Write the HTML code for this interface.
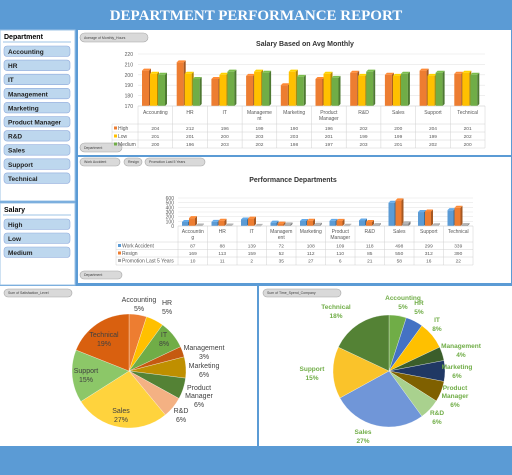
<!DOCTYPE html>
<html><head><meta charset="utf-8">
<style>
html,body{margin:0;padding:0;background:#5b9bd5;}
svg{display:block;font-family:"Liberation Sans",sans-serif;}
</style></head>
<body>
<svg id="s" width="512" height="475" viewBox="0 0 512 475" xmlns="http://www.w3.org/2000/svg">
<rect x="0" y="0" width="512" height="475" fill="#5b9bd5"/>
<text x="256" y="20" text-anchor="middle" font-family="Liberation Serif,serif" font-weight="bold" font-size="15" fill="#fff">DEPARTMENT PERFORMANCE REPORT</text>
<rect x="0" y="30" width="75" height="171" fill="#fff" stroke="#9dc3e6"/>
<rect x="0" y="203" width="75" height="82" fill="#fff" stroke="#9dc3e6"/>
<rect x="78" y="30" width="433" height="125" fill="#fff"/>
<rect x="78" y="157" width="433" height="126" fill="#fff"/>
<rect x="0" y="286" width="257" height="160" fill="#fff"/>
<rect x="259" y="286" width="253" height="160" fill="#fff"/>
<g id="g"></g>
</svg>
<script>
// ---- data ----
const departments=["Accounting","HR","IT","Management","Marketing","Product Manager","R&D","Sales","Support","Technical"];
const catLabels1=[["Accounting"],["HR"],["IT"],["Manageme","nt"],["Marketing"],["Product","Manager"],["R&D"],["Sales"],["Support"],["Technical"]];
const catLabels2=[["Accountin","g"],["HR"],["IT"],["Managem","ent"],["Marketing"],["Product","Manager"],["R&D"],["Sales"],["Support"],["Technical"]];
const salHigh=[204,212,196,199,190,196,202,200,204,201];
const salLow=[201,201,200,203,203,201,199,199,199,202];
const salMedium=[200,196,203,202,198,197,203,201,202,200];
const salTicks=[170,180,190,200,210,220];
const workAccident=[87,88,139,72,108,109,118,498,299,339];
const resign=[169,113,159,52,112,110,85,550,312,390];
const promotion=[10,11,2,35,27,6,21,58,16,22];
const perfTicks=[0,100,200,300,400,500,600];
const satisfactionPct=[5,5,8,3,6,6,6,27,15,19];
const timeSpentPct=[5,5,8,4,6,6,6,27,15,18];
const salaryLevels=["High","Low","Medium"];

const NS="http://www.w3.org/2000/svg";
const G=document.getElementById('g');
function mk(tag,a,p){const e=document.createElementNS(NS,tag);for(const k in a)e.setAttribute(k,a[k]);(p||G).appendChild(e);return e;}
function txt(x,y,s,a){const e=mk('text',Object.assign({x:x,y:y},a||{}));e.textContent=s;return e;}
function shade(c,f){const n=parseInt(c.slice(1),16);let r=(n>>16)&255,g=(n>>8)&255,b=n&255;return'rgb('+Math.round(r*f)+','+Math.round(g*f)+','+Math.round(b*f)+')';}
function bar3d(x,y,w,h,c,name){
  const r=mk('rect',{x:x,y:y,width:w,height:Math.max(h,0.5),fill:c});
  
  
  const s=mk('polygon',{points:`${x+w},${y} ${x+w+2},${y-2} ${x+w+2},${y+h-2} ${x+w},${y+h}`,fill:shade(c,0.7)});
  
  
  const t=mk('polygon',{points:`${x},${y} ${x+2},${y-2} ${x+w+2},${y-2} ${x+w},${y}`,fill:shade(c,1.1)});
  
  
}
function pill(x,y,w,h,label,name){
  const r=mk('rect',{x:x,y:y,width:w,height:h,rx:h/2,fill:"#d9d9d9",stroke:"#a6a6a6","stroke-width":0.6});
  
  
  txt(x+4,y+h-3,label,{"font-size":3.5,fill:"#404040"});
}

// ---- slicers ----
let t=txt(4,39,"Department",{"font-size":7,"font-weight":"bold",fill:"#000"});


mk('line',{x1:3,y1:42,x2:71,y2:42,stroke:"#9dc3e6"});
departments.forEach((d,i)=>{
  const y=46+i*14.1;
  const r=mk('rect',{x:4,y:y,width:66,height:10.5,rx:3,fill:"#bdd7ee",stroke:"#8faadc","stroke-width":0.6});
  
  
  txt(8,y+8,d,{"font-size":6.5,"font-weight":"bold",fill:"#1f1f1f"});
});
t=txt(4,212,"Salary",{"font-size":7,"font-weight":"bold",fill:"#000"});


mk('line',{x1:3,y1:215,x2:71,y2:215,stroke:"#9dc3e6"});
salaryLevels.forEach((d,i)=>{
  const y=219+i*14;
  const r=mk('rect',{x:4,y:y,width:66,height:10.5,rx:3,fill:"#bdd7ee",stroke:"#8faadc","stroke-width":0.6});
  
  
  txt(8,y+8,d,{"font-size":6.5,"font-weight":"bold",fill:"#1f1f1f"});
});

// ---- chart 1 ----
pill(80,33,68,9,"Average of Monthly_Hours","monthly-hours-field-button");
pill(80,143,42,9,"Department","department-field-button-1");
t=txt(305,46,"Salary Based on Avg Monthly",{"font-size":7,"font-weight":"bold","text-anchor":"middle",fill:"#333"});


const X0=138,X1=485,CW=(X1-X0)/10,BASE1=106;
const y1=v=>BASE1-(v-170)*52/50;
salTicks.forEach(v=>{
  mk('line',{x1:X0,y1:y1(v),x2:X1,y2:y1(v),stroke:"#e6e6e6","stroke-width":0.6});
  txt(133,y1(v)+2,String(v),{"font-size":5,"text-anchor":"end",fill:"#595959"});
});
const s1=[[salHigh,"#ed7d31","high"],[salLow,"#ffc000","low"],[salMedium,"#70ad47","medium"]];
departments.forEach((d,i)=>{
  s1.forEach((s,j)=>{
    const x=X0+i*CW+4+j*8, v=s[0][i];
    bar3d(x,y1(v),7,BASE1-y1(v),s[1],'salary-bar-'+s[2]+'-'+i);
  });
});
// table 1
const rows1=[106,124,132,140,148];
rows1.forEach(y=>mk('line',{x1:(y==106?X0:112),y1:y,x2:X1,y2:y,stroke:"#d0d0d0","stroke-width":0.5}));
for(let i=0;i<=10;i++)mk('line',{x1:X0+i*CW,y1:106,x2:X0+i*CW,y2:148,stroke:"#d0d0d0","stroke-width":0.5});
mk('line',{x1:112,y1:124,x2:112,y2:148,stroke:"#d0d0d0","stroke-width":0.5});
catLabels1.forEach((l,i)=>l.forEach((s,k)=>txt(X0+(i+.5)*CW,114+k*6,s,{"font-size":5,"text-anchor":"middle",fill:"#595959"})));
s1.forEach((s,j)=>{
  const y=rows1[j+1];
  mk('rect',{x:114,y:y+2.5,width:3,height:3,fill:s[1]});
  txt(118,y+6,salaryLevels[j],{"font-size":5,fill:"#595959"});
  s[0].forEach((v,i)=>txt(X0+(i+.5)*CW,y+6,String(v),{"font-size":4.8,"text-anchor":"middle",fill:"#595959"}));
});

// ---- chart 2 ----
pill(80,158,40,8,"Work Accident","work-accident-field-button");
pill(124,158,18,8,"Resign","resign-field-button");
pill(145,158,60,8,"Promotion Last 5 Years","promotion-field-button");
pill(80,271,42,8,"Department","department-field-button-2");
t=txt(293,182,"Performance Departments",{"font-size":7,"font-weight":"bold","text-anchor":"middle",fill:"#333"});


const P0=178,P1=473,PW=(P1-P0)/10,BASE2=226;
const y2=v=>BASE2-v*28/600;
perfTicks.forEach(v=>{
  mk('line',{x1:P0,y1:y2(v),x2:P1,y2:y2(v),stroke:"#e6e6e6","stroke-width":0.6});
  txt(174,y2(v)+2,String(v),{"font-size":5,"text-anchor":"end",fill:"#595959"});
});
const s2=[[workAccident,"#5b9bd5","work-accident","Work Accident"],[resign,"#ed7d31","resign","Resign"],[promotion,"#a5a5a5","promotion","Promotion Last 5 Years"]];
departments.forEach((d,i)=>{
  s2.forEach((s,j)=>{
    const x=P0+i*PW+4+j*7, v=s[0][i];
    bar3d(x,y2(v),6,BASE2-y2(v),s[1],'perf-bar-'+s[2]+'-'+i);
  });
});
const rows2=[226,242,249.5,257,265];
rows2.forEach(y=>mk('line',{x1:(y==226?P0:116),y1:y,x2:P1,y2:y,stroke:"#d0d0d0","stroke-width":0.5}));
for(let i=0;i<=10;i++)mk('line',{x1:P0+i*PW,y1:226,x2:P0+i*PW,y2:265,stroke:"#d0d0d0","stroke-width":0.5});
mk('line',{x1:116,y1:242,x2:116,y2:265,stroke:"#d0d0d0","stroke-width":0.5});
catLabels2.forEach((l,i)=>l.forEach((s,k)=>txt(P0+(i+.5)*PW,233+k*6,s,{"font-size":5,"text-anchor":"middle",fill:"#595959"})));
s2.forEach((s,j)=>{
  const y=rows2[j+1];
  mk('rect',{x:118,y:y+2,width:3,height:3,fill:s[1]});
  txt(122,y+5.5,s[3],{"font-size":5,fill:"#595959"});
  s[0].forEach((v,i)=>txt(P0+(i+.5)*PW,y+5.5,String(v),{"font-size":4.8,"text-anchor":"middle",fill:"#595959"}));
});

// ---- pies ----
function pie(cx,cy,r,vals,colors,prefix){
  const tot=vals.reduce((a,b)=>a+b,0);let a0=-Math.PI/2;
  vals.forEach((v,i)=>{
    const a1=a0+v/tot*2*Math.PI;
    const x0=cx+r*Math.cos(a0),yy0=cy+r*Math.sin(a0),x1=cx+r*Math.cos(a1),yy1=cy+r*Math.sin(a1);
    const p=mk('path',{d:`M${cx},${cy}L${x0},${yy0}A${r},${r} 0 ${a1-a0>Math.PI?1:0} 1 ${x1},${yy1}Z`,fill:colors[i],stroke:"#fff","stroke-width":0.3});
    
    
    a0=a1;
  });
}
pill(4,289,68,8,"Sum of Satisfaction_Level","satisfaction-field-button");
pie(129,371,57,satisfactionPct,["#ed7d31","#ffc000","#70ad47","#c55a11","#bf8f00","#548235","#f4b183","#ffd33d","#8cc768","#d9600f"],"satisfaction");
const lp=[[139,302],[167,305],[164,337],[204,350],[204,368],[199,390],[181,413],[121,413],[86,373],[104,337]];
const lbl=[["Accounting"],["HR"],["IT"],["Management"],["Marketing"],["Product","Manager"],["R&D"],["Sales"],["Support"],["Technical"]];
lbl.forEach((l,i)=>{const p=lp[i];l.forEach((s,k)=>txt(p[0],p[1]+k*8,s,{"font-size":7,"text-anchor":"middle",fill:"#404040"}));
  txt(p[0],p[1]+l.length*8+1,satisfactionPct[i]+"%",{"font-size":7,"text-anchor":"middle",fill:"#404040"});});

pill(263,289,78,8,"Sum of Time_Spend_Company","time-spent-field-button");
pie(389,371,56,timeSpentPct,["#70ad47","#4472c4","#ffc000","#3b5e2b","#203864","#7f6000","#a9d18e","#7096d8","#fac32a","#548235"],"time-spent");
const rp=[[403,300],[419,305],[437,322],[461,348],[457,369],[455,390],[437,415],[363,434],[312,371],[336,309]];
lbl.forEach((l,i)=>{const p=rp[i];l.forEach((s,k)=>txt(p[0],p[1]+k*8,s,{"font-size":6.5,"font-weight":"bold","text-anchor":"middle",fill:"#70ad47"}));
  txt(p[0],p[1]+l.length*8+1,timeSpentPct[i]+"%",{"font-size":6.5,"font-weight":"bold","text-anchor":"middle",fill:"#70ad47"});});
</script>
</body></html>
